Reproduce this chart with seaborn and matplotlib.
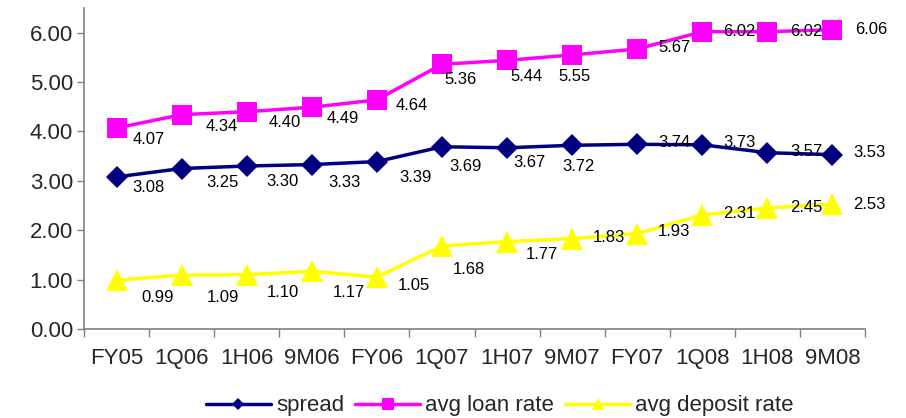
import matplotlib
matplotlib.use("Agg")
import matplotlib.pyplot as plt
from matplotlib.lines import Line2D
import seaborn as sns
import pandas as pd

periods = ["FY05", "1Q06", "1H06", "9M06", "FY06", "1Q07",
           "1H07", "9M07", "FY07", "1Q08", "1H08", "9M08"]
spread = [3.08, 3.25, 3.30, 3.33, 3.39, 3.69, 3.67, 3.72, 3.74, 3.73, 3.57, 3.53]
avg_loan_rate = [4.07, 4.34, 4.40, 4.49, 4.64, 5.36, 5.44, 5.55, 5.67, 6.02, 6.02, 6.06]
avg_deposit_rate = [0.99, 1.09, 1.10, 1.17, 1.05, 1.68, 1.77, 1.83, 1.93, 2.31, 2.45, 2.53]
y_ticks = [0, 1, 2, 3, 4, 5, 6]

# label offsets in pixels (right, down) - mimic the excel placement
spread_off = [(32, 11), (41, 14), (36, 15), (33, 18), (39, 16), (24, 20),
              (22, 15), (6, 21), (37, -2), (37, -2), (39, -1), (37, -2)]
loan_off = [(32, 11), (40, 12), (38, 11), (31, 11), (35, 6), (19, 15),
            (19, 16), (2, 22), (37, -1), (37, 0), (39, 0), (39, 0)]
deposit_off = [(41, 17), (41, 22), (36, 18), (37, 21), (37, 8), (27, 23),
               (35, 13), (37, -1), (37, -2), (37, -1), (39, -1), (37, 0)]

sns.set_style("ticks")
plt.rcParams["font.family"] = ["Liberation Sans", "DejaVu Sans"]

series = [
    ("spread", spread, "#000080", "D", 11, spread_off),
    ("avg loan rate", avg_loan_rate, "#FF00FF", "s", 15, loan_off),
    ("avg deposit rate", avg_deposit_rate, "#FFFF00", "^", 15.5, deposit_off),
]

fig = plt.figure(figsize=(9.06, 4.18), dpi=100)
ax = fig.add_axes([84 / 906, 89 / 418, 781 / 906, 321 / 418])

handles = []
for name, vals, color, marker, ms, offs in series:
    df = pd.DataFrame({"period": periods, "rate": vals})
    sns.lineplot(data=df, x="period", y="rate", ax=ax, color=color, lw=2.5,
                 marker=marker, markersize=ms, markeredgewidth=0, sort=False)
    for i, (v, (dx, dy)) in enumerate(zip(vals, offs)):
        ax.annotate(f"{v:.2f}", (i, v), xytext=(dx, -dy), textcoords="offset pixels",
                    ha="center", va="center", fontsize=12, color="black", zorder=5)
    handles.append(Line2D([], [], color=color, lw=2.5, marker=marker,
                          markersize=ms * 0.55, markeredgewidth=0, label=name))

ax.set_xlim(-0.5, len(periods) - 0.5)
ax.set_ylim(0, 6.5)
ax.set_yticks(y_ticks)
ax.set_yticklabels([f"{t:.2f}" for t in y_ticks])
ax.set_xticks(range(len(periods)))
ax.set_xticklabels(periods)
ax.set_xticks([i - 0.5 for i in range(len(periods) + 1)], minor=True)
ax.tick_params(axis="x", which="major", length=0, pad=14, labelsize=16)
ax.tick_params(axis="x", which="minor", length=6, color="#808080", width=1)
ax.tick_params(axis="y", length=5, color="#808080", width=1, labelsize=16, pad=3)
ax.set_xlabel("")
ax.set_ylabel("")
for side in ["top", "right"]:
    ax.spines[side].set_visible(False)
for side in ["left", "bottom"]:
    ax.spines[side].set_color("#808080")
    ax.spines[side].set_linewidth(1.2)

fig.legend(handles=handles, loc="center", bbox_to_anchor=(500 / 906, 12 / 418),
           ncol=3, frameon=False, fontsize=16, handlelength=2.9,
           handletextpad=0.25, columnspacing=0.5, borderpad=0)

fig.savefig("out.png", dpi=100)
